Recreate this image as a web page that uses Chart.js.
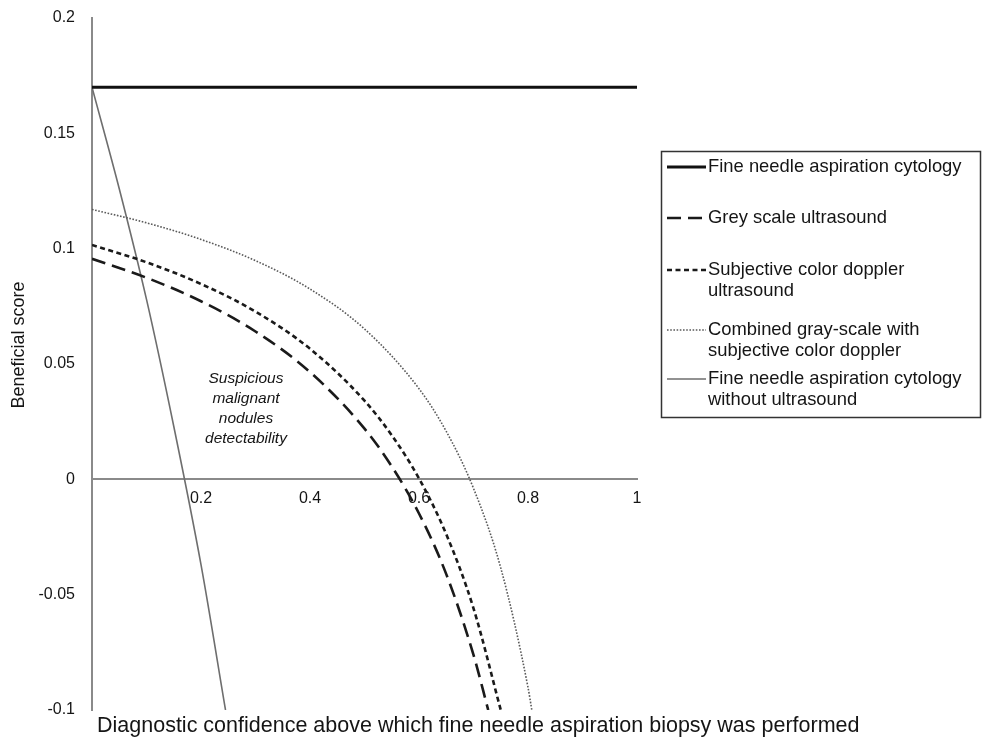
<!DOCTYPE html>
<html>
<head>
<meta charset="utf-8">
<script src="https://cdn.jsdelivr.net/npm/chart.js@4.4.0/dist/chart.umd.min.js"></script>
<style>
	html, body { margin: 0; padding: 0; background: #fff; }
	#wrap { position: relative; width: 982px; height: 744px; }
</style>
</head>
<body>
<div id="wrap"><canvas id="c" width="982" height="744"></canvas></div>
<script>
/* beneficial score vs diagnostic confidence */
const fnacX = [0, 1];
const fnacY = [0.17, 0.17];
const greyX = [0, 0.1, 0.2, 0.3, 0.4, 0.5, 0.55, 0.6, 0.65, 0.7, 0.727];
const greyY = [0.0956, 0.0874, 0.0772, 0.0641, 0.0465, 0.022, 0.0056, -0.0148, -0.0411, -0.0761, -0.1];
const dopplerX = [0, 0.1, 0.2, 0.3, 0.4, 0.5, 0.55, 0.6, 0.65, 0.7, 0.75];
const dopplerY = [0.1016, 0.0941, 0.0847, 0.0727, 0.0566, 0.0341, 0.0191, 0.0004, -0.0238, -0.0559, -0.1];
const combinedX = [0, 0.1, 0.2, 0.3, 0.4, 0.5, 0.6, 0.65, 0.7, 0.75, 0.8, 0.807];
const combinedY = [0.117, 0.1112, 0.104, 0.0948, 0.0825, 0.0652, 0.0393, 0.0208, -0.0039, -0.0384, -0.0902, -0.1];
const noUsX = [0, 0.05, 0.1, 0.15, 0.2, 0.245];
const noUsY = [0.17, 0.126, 0.078, 0.023, -0.037, -0.1];

const legendLines = [
	['Fine needle aspiration cytology'],
	['Grey scale ultrasound'],
	['Subjective color doppler', 'ultrasound'],
	['Combined gray-scale with', 'subjective color doppler'],
	['Fine needle aspiration cytology', 'without ultrasound'],
];
const noteLines = ['Suspicious', 'malignant', 'nodules', 'detectability'];
const xTitle = 'Diagnostic confidence above which fine needle aspiration biopsy was performed';
const yTitle = 'Beneficial score';

const FONT = '"Liberation Sans", Arial, Helvetica, sans-serif';
const TEXT = '#151515';

function pts(xs, ys) {
	return xs.map((x, i) => ({ x: x, y: ys[i] }));
}

const datasets = [
	{ label: legendLines[0].join(' '), data: pts(fnacX, fnacY), borderColor: '#111', borderWidth: 3, borderDash: [] },
	{ label: legendLines[1].join(' '), data: pts(greyX, greyY), borderColor: '#1a1a1a', borderWidth: 2.6, borderDash: [14, 7] },
	{ label: legendLines[2].join(' '), data: pts(dopplerX, dopplerY), borderColor: '#1a1a1a', borderWidth: 2.6, borderDash: [5, 3.5] },
	{ label: legendLines[3].join(' '), data: pts(combinedX, combinedY), borderColor: '#5a5a5a', borderWidth: 1.6, borderDash: [1.6, 1.6] },
	{ label: legendLines[4].join(' '), data: pts(noUsX, noUsY), borderColor: '#6e6e6e', borderWidth: 1.6, borderDash: [] },
];

const extras = {
	id: 'extras',
	afterDraw(chart) {
		const ctx = chart.ctx;
		ctx.save();
		// axis titles
		ctx.fillStyle = TEXT;
		ctx.textAlign = 'left';
		ctx.textBaseline = 'middle';
		ctx.font = '21.5px ' + FONT;
		ctx.fillText(xTitle, 97, 726);
		ctx.font = '18px ' + FONT;
		ctx.textAlign = 'center';
		ctx.translate(19, 345);
		ctx.rotate(-Math.PI / 2);
		ctx.fillText(yTitle, 0, 0);
		ctx.restore();

		// note in the plot
		ctx.save();
		ctx.fillStyle = TEXT;
		ctx.font = 'italic 15.5px ' + FONT;
		ctx.textAlign = 'center';
		ctx.textBaseline = 'middle';
		noteLines.forEach((t, i) => ctx.fillText(t, 246, 379 + i * 20));
		ctx.restore();

		// legend box
		ctx.save();
		ctx.strokeStyle = '#333';
		ctx.lineWidth = 1.5;
		ctx.strokeRect(661.5, 151.5, 319, 266);
		const rows = [[167], [218], [270, 291], [330, 351], [379, 400]];
		ctx.font = '18.4px ' + FONT;
		ctx.textAlign = 'left';
		ctx.textBaseline = 'middle';
		legendLines.forEach((lines, i) => {
			const ds = chart.data.datasets[i];
			const y0 = rows[i][0];
			ctx.save();
			ctx.strokeStyle = ds.borderColor;
			ctx.lineWidth = ds.borderWidth;
			ctx.setLineDash(ds.borderDash);
			ctx.beginPath();
			ctx.moveTo(667, y0);
			ctx.lineTo(706, y0);
			ctx.stroke();
			ctx.restore();
			ctx.fillStyle = TEXT;
			lines.forEach((t, j) => ctx.fillText(t, 708, rows[i][j]));
		});
		ctx.restore();
	},
};

new Chart(document.getElementById('c'), {
	type: 'line',
	data: { datasets: datasets },
	options: {
		responsive: false,
		animation: false,
		layout: { padding: { left: 0, top: 18, right: 345, bottom: 34 } },
		elements: {
			point: { radius: 0 },
			line: { cubicInterpolationMode: 'monotone', fill: false },
		},
		plugins: {
			legend: { display: false },
			tooltip: { enabled: false },
		},
		scales: {
			x: {
				type: 'linear',
				min: 0,
				max: 1,
				position: { y: 0 },
				grid: { display: false, drawTicks: false },
				border: { display: true, color: '#8a8a8a', width: 2 },
				ticks: {
					stepSize: 0.2,
					padding: 10,
					color: TEXT,
					font: { family: FONT, size: 16 },
					maxRotation: 0,
					callback: (v) => (v === 0 ? '' : String(+v.toFixed(1))),
				},
				afterFit(scale) {
					scale.height = 0;
				},
			},
			y: {
				min: -0.1,
				max: 0.2,
				grid: { display: false, drawTicks: false },
				border: { display: true, color: '#8a8a8a', width: 2 },
				ticks: {
					stepSize: 0.05,
					padding: 17,
					color: TEXT,
					font: { family: FONT, size: 16 },
					callback: (v) => String(+v.toFixed(2)),
				},
				afterFit(scale) {
					scale.width = 92;
					scale.paddingTop = 0;
					scale.paddingBottom = 0;
				},
			},
		},
	},
	plugins: [extras],
});
</script>
</body>
</html>
